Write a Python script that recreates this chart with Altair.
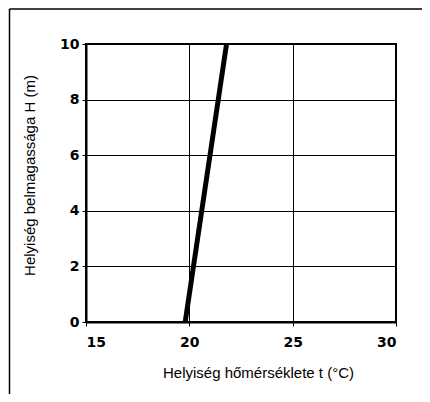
import altair as alt
import pandas as pd

temps = [19.8, 21.8]
heights = [0, 10]
x_ticks = [15, 20, 25, 30]
y_ticks = [0, 2, 4, 6, 8, 10]

df = pd.DataFrame({"t": temps, "H": heights})

LABEL_FONT = "DejaVu Sans"

x_axis = alt.Axis(
    values=x_ticks, title="Helyiség hőmérséklete t (°C)",
    labelFont=LABEL_FONT, labelFontWeight="bold", labelFontSize=14, labelColor="#000",
    labelPadding=9, tickSize=4, tickColor="#000", domainColor="#000", domainWidth=2,
    gridColor="#000", gridWidth=1, gridOpacity=1,
    titleFont="Liberation Sans", titleFontWeight="normal", titleFontSize=15, titleColor="#000",
    titleX=172, titleY=43, titleAlign="center", titleBaseline="top",
)
y_axis = alt.Axis(
    values=y_ticks, title="Helyiség belmagassága H (m)",
    labelFont=LABEL_FONT, labelFontWeight="bold", labelFontSize=14, labelColor="#000",
    labelPadding=3, tickSize=4, tickColor="#000", domainColor="#000", domainWidth=2,
    gridColor="#000", gridWidth=1, gridOpacity=1,
    titleFont="Liberation Sans", titleFontWeight="normal", titleFontSize=15, titleColor="#000",
    titleX=-49, titleY=131, titleAlign="center", titleAngle=270,
)

line = alt.Chart(df).mark_line(color="#000", strokeWidth=5).encode(
    x=alt.X("t:Q", scale=alt.Scale(domain=[15, 30], nice=False, zero=False), axis=x_axis),
    y=alt.Y("H:Q", scale=alt.Scale(domain=[0, 10], nice=False), axis=y_axis),
)

frame_df = pd.DataFrame({"k": [0]})
left_frame = alt.Chart(frame_df).mark_rule(color="#000", strokeWidth=1.5).encode(
    x=alt.value(-76.5), y=alt.value(-35), y2=alt.value(360)
)
top_frame = alt.Chart(frame_df).mark_rule(color="#000", strokeWidth=1.5).encode(
    x=alt.value(-76.5), x2=alt.value(340), y=alt.value(-35)
)

chart = alt.layer(line, left_frame, top_frame).properties(
    width=310, height=278,
    autosize=alt.AutoSizeParams(type="none"),
    padding={"left": 78, "top": 36, "right": 26, "bottom": 72},
    background="#fff",
).configure_view(stroke="#000", strokeWidth=2)

chart.save("out.html", embed_options={"renderer": "svg", "actions": False})
